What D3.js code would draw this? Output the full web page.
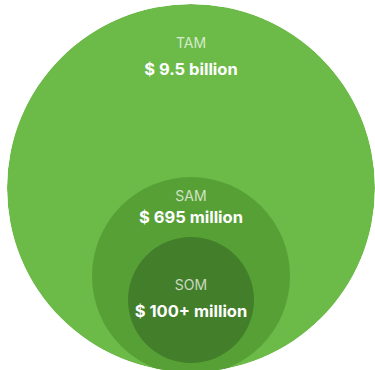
<!DOCTYPE html>
<html>
<head>
<meta charset="utf-8">
<script src="https://cdn.jsdelivr.net/npm/d3@7"></script>
<style>
  html, body { margin: 0; padding: 0; background: #ffffff; }
  svg { display: block; }
</style>
</head>
<body>
<div id="chart"></div>
<script>
// market sizes, outermost first
const categories = ['TAM', 'SAM', 'SOM'];
const valueLabels = ['$ 9.5 billion', '$ 695 million', '$ 100+ million'];

const width = 375;
const height = 370;

// circles are nested, not drawn to scale of the values
const radius = d3.scaleOrdinal().domain(categories).range([184, 99, 63]);
const centerY = d3.scaleOrdinal().domain(categories).range([188, 276, 300]);
const color = d3.scaleOrdinal().domain(categories).range(['#6cbb48', '#57a036', '#437e2a']);
// baselines of the small title and of the value line
const labelY = d3.scaleOrdinal().domain(categories).range([48, 201, 290]);
const valueY = d3.scaleOrdinal().domain(categories).range([75, 223, 317]);
const cx = 191;

const svg = d3
  .select('#chart')
  .append('svg')
  .attr('width', width)
  .attr('height', height);

svg
  .append('defs')
  .append('clipPath')
  .attr('id', 'outer')
  .append('circle')
  .attr('cx', cx)
  .attr('cy', centerY('TAM'))
  .attr('r', radius('TAM'));

const rows = categories.map((c, i) => ({ name: c, value: valueLabels[i] }));

svg
  .append('g')
  .attr('clip-path', 'url(#outer)')
  .selectAll('circle')
  .data(rows)
  .join('circle')
  .attr('cx', cx)
  .attr('cy', (d) => centerY(d.name))
  .attr('r', (d) => radius(d.name))
  .attr('fill', (d) => color(d.name));

const labels = svg.append('g').selectAll('g').data(rows).join('g');

labels
  .append('text')
  .attr('x', cx)
  .attr('y', (d) => labelY(d.name))
  .attr('text-anchor', 'middle')
  .style('font-family', 'Inter, "Open Sans", sans-serif')
  .style('font-size', '14px')
  .style('fill', 'rgba(255,255,255,0.72)')
  .text((d) => d.name);

labels
  .append('text')
  .attr('x', cx)
  .attr('y', (d) => valueY(d.name))
  .attr('text-anchor', 'middle')
  .style('font-family', 'Inter, "Open Sans", sans-serif')
  .style('font-weight', '700')
  .style('font-size', '16.5px')
  .style('fill', '#ffffff')
  .text((d) => d.value);
</script>
</body>
</html>
